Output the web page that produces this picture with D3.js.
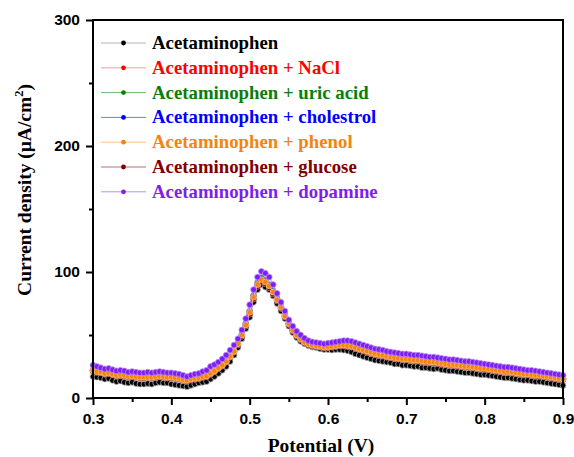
<!DOCTYPE html>
<html>
<head>
<meta charset="utf-8">
<script src="https://cdn.jsdelivr.net/npm/d3@7"></script>
<style>
  body { margin: 0; background: #fff; }
  svg { display: block; }
</style>
</head>
<body>
<div id="chart"></div>
<script>
// potential (V) sample points
var potential = [
  0.300,0.305,0.310,0.315,0.320,0.325,0.330,0.335,0.340,0.345,
  0.350,0.355,0.360,0.365,0.370,0.375,0.380,0.385,0.390,0.395,
  0.400,0.405,0.410,0.415,0.420,0.425,0.430,0.435,0.440,0.445,
  0.450,0.455,0.460,0.465,0.470,0.475,0.480,0.485,0.490,0.495,
  0.500,0.505,0.510,0.515,0.520,0.525,0.530,0.535,0.540,0.545,
  0.550,0.555,0.560,0.565,0.570,0.575,0.580,0.585,0.590,0.595,
  0.600,0.605,0.610,0.615,0.620,0.625,0.630,0.635,0.640,0.645,
  0.650,0.655,0.660,0.665,0.670,0.675,0.680,0.685,0.690,0.695,
  0.700,0.705,0.710,0.715,0.720,0.725,0.730,0.735,0.740,0.745,
  0.750,0.755,0.760,0.765,0.770,0.775,0.780,0.785,0.790,0.795,
  0.800,0.805,0.810,0.815,0.820,0.825,0.830,0.835,0.840,0.845,
  0.850,0.855,0.860,0.865,0.870,0.875,0.880,0.885,0.890,0.895,
  0.900
];

var acetaminophen = [
  17,16.5,16,15,15.5,14,13,13.5,12.5,12,
  12.5,11.5,11,11,11.5,11,12,12.5,12,12,
  11,10.5,10,9.5,9,10,11,12,12.5,13,
  15,17,19.5,22,25,29,34,40,47,55,
  64,76,86,90,88,86,81,75,69,63,
  57,52,48,45,43,41.5,40.5,40,39,38.5,
  38.5,38,38.5,38.5,38,37.5,36.5,35,34,33,
  32,31,30,29.5,29,28.5,28,27,27,26,
  26,25.5,25,25,24,24,23.5,23,23.5,22.5,
  22,21.5,21.5,21,20.5,20,20,19.5,19,18.5,
  18.5,18,17.5,17,16.5,16,16,15.5,15,14.5,
  14,14,13.5,13,13,12.5,12,11.5,11,10.5,
  10
];

var withNaCl = [
  21.5,20.5,20,19,19.5,18.5,17.5,18,17.5,16.5,
  17,16.5,16,16,16.5,16,16.5,17,16.5,16,
  16,15.5,15,14,13.5,14.5,15,15.5,16.5,17,
  19,21,23.5,25.5,28.5,32.5,36.5,42.5,49.5,57.5,
  67,79,89,93,91.5,88.5,83.5,77.5,71.5,64.5,
  58.5,53.5,49.5,46.5,44,42.5,41.5,41,40.5,40,
  40,40.5,41,41.5,41.5,41,40.5,39.5,38.5,37.5,
  36.5,35.5,34.5,34,33.5,32.5,32,31.5,31,30.5,
  30.5,30,29.5,29.5,29,28.5,28,28,27.5,27,
  26.5,26,26,25.5,25,24.5,24.5,24,23.5,23,
  23,22.5,22,21.5,21,20.5,20.5,20,19.5,19,
  18.5,18.5,18,17.5,17.5,17,16.5,16,15.5,15,
  14.5
];

var withUricAcid = [
  22,21.5,20.5,20,20,19,18.5,18.5,18,17.5,
  17.5,17,17,16.5,17,16.5,17,17.5,17,17,
  16.5,16,15.5,15,14.5,15,15.5,16.5,17,18,
  19.5,21.5,24,26.5,29.5,33.5,37.5,43.5,50.5,59,
  69,81.5,91.5,95.5,93.5,90,85,79,72.5,66,
  59.5,54.5,50.5,47.5,45,43.5,42.5,42,41.5,41,
  41,41.5,42,42.5,42.5,42,41.5,40.5,39.5,38.5,
  37.5,36.5,35.5,35,34.5,33.5,33,32.5,32,31.5,
  31.5,31,30.5,30.5,30,29.5,29,29,28.5,28,
  27.5,27,27,26.5,26,25.5,25.5,25,24.5,24,
  24,23.5,23,22.5,22,21.5,21.5,21,20.5,20,
  19.5,19.5,19,18.5,18.5,18,17.5,17,16.5,16,
  15.5
];

var withCholestrol = [
  22,21,20.5,19.5,20,19,18,18.5,18,17,
  17.5,17,16.5,16.5,17,16.5,17,17.5,17,16.5,
  16.5,16,15.5,14.5,14,15,15.5,16,17,17.5,
  19.5,21.5,24,26,29,33,37,43,50,58.5,
  68.5,80.5,90.5,94.5,92.5,89.5,84.5,78.5,72,65,
  59,54,50,47,44.5,43,42,41.5,41,40.5,
  40.5,41,41.5,42,42,41.5,41,40,39,38,
  37,36,35,34.5,34,33,32.5,32,31.5,31,
  31,30.5,30,30,29.5,29,28.5,28.5,28,27.5,
  27,26.5,26.5,26,25.5,25,25,24.5,24,23.5,
  23.5,23,22.5,22,21.5,21,21,20.5,20,19.5,
  19,19,18.5,18,18,17.5,17,16.5,16,15.5,
  15
];

var withPhenol = [
  22,21,20.5,19.5,20,19,18,18.5,18,17,
  17.5,17,16.5,16.5,17,16.5,17,17.5,17,16.5,
  16.5,16,15.5,14.5,14,15,15.5,16,17,17.5,
  19.5,21.5,24,26,29,33,37,43,50,58,
  68,80,90,94,92,89,84,78,72,65,
  59,54,50,47,44.5,43,42,41.5,41,40.5,
  40.5,41,41.5,42,42,41.5,41,40,39,38,
  37,36,35,34.5,34,33,32.5,32,31.5,31,
  31,30.5,30,30,29.5,29,28.5,28.5,28,27.5,
  27,26.5,26.5,26,25.5,25,25,24.5,24,23.5,
  23.5,23,22.5,22,21.5,21,21,20.5,20,19.5,
  19,19,18.5,18,18,17.5,17,16.5,16,15.5,
  15
];

var withGlucose = [
  21.5,20.5,20,19,19.5,18.5,17.5,18,17.5,16.5,
  17,16.5,16,16,16.5,16,16.5,17,16.5,16,
  16,15.5,15,14,13.5,14.5,15,15.5,16.5,17,
  19,21,23.5,25.5,28.5,32.5,36.5,42,49,57,
  66.5,78.5,88.5,92,90.5,87.5,82.5,77,71,64.5,
  58.5,53.5,49.5,46.5,44,42.5,41.5,41,40.5,40,
  40,40.5,41,41.5,41.5,41,40.5,39.5,38.5,37.5,
  36.5,35.5,34.5,34,33.5,32.5,32,31.5,31,30.5,
  30.5,30,29.5,29.5,29,28.5,28,28,27.5,27,
  26.5,26,26,25.5,25,24.5,24.5,24,23.5,23,
  23,22.5,22,21.5,21,20.5,20.5,20,19.5,19,
  18.5,18.5,18,17.5,17.5,17,16.5,16,15.5,15,
  14.5
];

var withDopamine = [
  26,25,24,23,23.5,22.5,21.5,22,21.5,20.5,
  21,20.5,20,20,20.5,20,20.5,21,20.5,20,
  20,19.5,19,18,17,18,19,19.5,21,22,
  25,26.5,28.5,31,34,38,42,47,54,63,
  74,86,96,100.5,99,96,90,83,76,69,
  62,57,53,50,47.5,45.5,44.5,44,43.5,43,
  43.5,44,44.5,45,45.5,45.5,45,44,43,42,
  41,40,39,38.5,38,37,36.5,36,35.5,35,
  35,34.5,34,34,33.5,33,32.5,32.5,32,31.5,
  31,30.5,30.5,30,29.5,29,29,28.5,28,27.5,
  27,26.5,26,25.5,25,24.5,24.5,24,23.5,23,
  22.5,22,22,21.5,21,20.5,20,19.5,19,18.5,
  18
];

var seriesNames = [
  "Acetaminophen",
  "Acetaminophen + NaCl",
  "Acetaminophen + uric acid",
  "Acetaminophen + cholestrol",
  "Acetaminophen + phenol",
  "Acetaminophen + glucose",
  "Acetaminophen + dopamine"
];
var seriesValues = [acetaminophen, withNaCl, withUricAcid, withCholestrol, withPhenol, withGlucose, withDopamine];

var xTicks = [0.3, 0.4, 0.5, 0.6, 0.7, 0.8, 0.9];
var yTicks = [0, 100, 200, 300];

var colors = ["#000000", "#ff0000", "#0b7d0b", "#0000ff", "#f5840c", "#800000", "#7d1ff0"];
var lightColors = ["#b4b4b4", "#ff9a9a", "#6fb86f", "#7474ff", "#ffbf80", "#b97070", "#bb8cff"];
// order in which the curves are painted (phenol sits on top of the crowd, dopamine on top of all)
var drawOrder = [0, 1, 2, 3, 5, 4, 6];

var width = 574, height = 457;
var margin = { top: 20, right: 11, bottom: 59, left: 93 };

var svg = d3.select("#chart").append("svg")
    .attr("width", width)
    .attr("height", height);

var x = d3.scaleLinear().domain([0.3, 0.9]).range([margin.left, width - margin.right]);
var y = d3.scaleLinear().domain([0, 300]).range([height - margin.bottom, margin.top]);

var line = d3.line()
    .x(function(d) { return x(d[0]); })
    .y(function(d) { return y(d[1]); });

var plot = svg.append("g");

drawOrder.forEach(function(k) {
  var pts = potential.map(function(p, i) { return [p, seriesValues[k][i]]; });
  plot.append("path")
      .datum(pts)
      .attr("d", line)
      .attr("fill", "none")
      .attr("stroke", lightColors[k])
      .attr("stroke-width", 1);
  plot.selectAll(".m" + k)
      .data(pts)
      .enter()
      .append("circle")
      .attr("class", "m" + k)
      .attr("cx", function(d) { return x(d[0]); })
      .attr("cy", function(d) { return y(d[1]); })
      .attr("r", 2.9)
      .attr("fill", colors[k])
      .attr("stroke", lightColors[k])
      .attr("stroke-width", 0.8);
});

// axes
var tickFont = "'Liberation Sans', Arial, sans-serif";
var serif = "'Liberation Serif', 'Times New Roman', serif";

var xAxis = svg.append("g")
    .attr("transform", "translate(0," + (height - margin.bottom) + ")")
    .call(d3.axisBottom(x).tickValues(xTicks).tickSize(7).tickPadding(8).tickFormat(d3.format(".1f")));
var xMinor = svg.append("g")
    .attr("transform", "translate(0," + (height - margin.bottom) + ")")
    .call(d3.axisBottom(x).tickValues([0.35, 0.45, 0.55, 0.65, 0.75, 0.85]).tickSize(4).tickFormat(""));

var yAxis = svg.append("g")
    .attr("transform", "translate(" + margin.left + ",0)")
    .call(d3.axisLeft(y).tickValues(yTicks).tickSize(7).tickPadding(6));
var yMinor = svg.append("g")
    .attr("transform", "translate(" + margin.left + ",0)")
    .call(d3.axisLeft(y).tickValues([50, 150, 250]).tickSize(4).tickFormat(""));

[xAxis, xMinor, yAxis, yMinor].forEach(function(g) {
  g.select(".domain").remove();
  g.selectAll("line").attr("stroke", "#000").attr("stroke-width", 2);
  g.selectAll("text")
      .attr("font-family", tickFont)
      .attr("font-weight", "bold")
      .attr("font-size", 15.5)
      .attr("fill", "#000");
});

// frame
svg.append("rect")
    .attr("x", margin.left)
    .attr("y", margin.top)
    .attr("width", width - margin.left - margin.right)
    .attr("height", height - margin.top - margin.bottom)
    .attr("fill", "none")
    .attr("stroke", "#000")
    .attr("stroke-width", 2);

// axis titles
svg.append("text")
    .attr("x", 321)
    .attr("y", 452)
    .attr("text-anchor", "middle")
    .attr("font-family", serif)
    .attr("font-weight", "bold")
    .attr("font-size", 19.5)
    .text("Potential (V)");

var yTitle = svg.append("text")
    .attr("transform", "translate(31,190) rotate(-90)")
    .attr("text-anchor", "middle")
    .attr("font-family", serif)
    .attr("font-weight", "bold")
    .attr("font-size", 19.5);
yTitle.append("tspan").text("Current density (\u03bcA/cm");
yTitle.append("tspan").attr("dy", -8).attr("font-size", 12.5).text("2");
yTitle.append("tspan").attr("dy", 8).text(")");

// legend
var legend = svg.append("g");
seriesNames.forEach(function(name, i) {
  var ly = 43 + i * 24.8;
  legend.append("line")
      .attr("x1", 101).attr("x2", 146)
      .attr("y1", ly).attr("y2", ly)
      .attr("stroke", lightColors[i])
      .attr("stroke-width", 1);
  legend.append("circle")
      .attr("cx", 123.5).attr("cy", ly)
      .attr("r", 2.4)
      .attr("fill", colors[i]);
  legend.append("text")
      .attr("x", 152)
      .attr("y", ly + 6)
      .attr("font-family", serif)
      .attr("font-weight", "bold")
      .attr("font-size", 18.8)
      .attr("fill", colors[i])
      .text(name);
});
</script>
</body>
</html>
